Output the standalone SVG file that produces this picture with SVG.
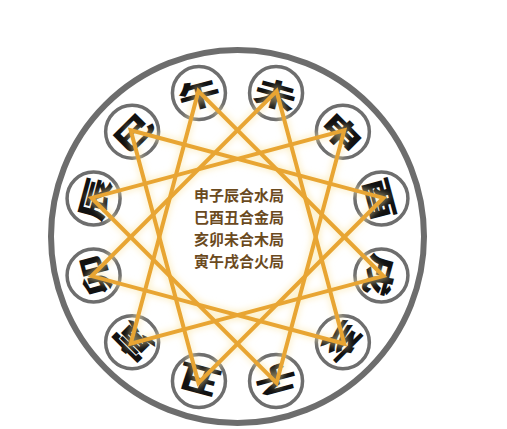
<svg xmlns="http://www.w3.org/2000/svg" width="507" height="429" viewBox="0 0 507 429">
<defs>
<style>
.node circle{fill:#ffffff;stroke:#6e6e6e;stroke-width:3.5}
.node text{font-family:"Noto Sans CJK SC","Noto Sans CJK TC",sans-serif;font-weight:900;font-size:34px;fill:#111111;text-anchor:middle;dominant-baseline:central}
.tri{fill:none;stroke:#E8A533;stroke-width:4;stroke-linejoin:miter}
.glow{fill:none;stroke:#FBE7A8;stroke-width:8;opacity:0.5}
.legend{font-family:"Noto Sans CJK SC",sans-serif;font-weight:700;font-size:15px;fill:#6b4a1e;text-anchor:middle}
</style>
<filter id="blur" x="-20%" y="-20%" width="140%" height="140%"><feGaussianBlur stdDeviation="3"/></filter>
</defs>
<rect width="507" height="429" fill="#ffffff"/>
<circle id="outer" cx="237.5" cy="236.5" r="186.5" fill="none" stroke="#6d6d6d" stroke-width="6"/>
<g id="node-wu" class="node"><circle cx="198.94" cy="93.08" r="26.5"/><g transform="translate(198.94,93.08) rotate(-15) scale(1.25,0.9)"><text x="0" y="0">午</text></g></g>
<g id="node-wei" class="node"><circle cx="276.06" cy="93.08" r="26.5"/><g transform="translate(276.06,93.08) rotate(15) scale(1.25,0.9)"><text x="0" y="0">未</text></g></g>
<g id="node-shen" class="node"><circle cx="342.86" cy="131.64" r="26.5"/><g transform="translate(342.86,131.64) rotate(45) scale(1.25,0.9)"><text x="0" y="0">申</text></g></g>
<g id="node-you" class="node"><circle cx="381.42" cy="198.44" r="26.5"/><g transform="translate(381.42,198.44) rotate(75) scale(1.25,0.9)"><text x="0" y="0">酉</text></g></g>
<g id="node-xu" class="node"><circle cx="381.42" cy="275.56" r="26.5"/><g transform="translate(381.42,275.56) rotate(105) scale(1.25,0.9)"><text x="0" y="0">戌</text></g></g>
<g id="node-hai" class="node"><circle cx="342.86" cy="342.36" r="26.5"/><g transform="translate(342.86,342.36) rotate(135) scale(1.25,0.9)"><text x="0" y="0">亥</text></g></g>
<g id="node-zi" class="node"><circle cx="276.06" cy="380.92" r="26.5"/><g transform="translate(276.06,380.92) rotate(165) scale(1.25,0.9)"><text x="0" y="0">子</text></g></g>
<g id="node-chou" class="node"><circle cx="198.94" cy="380.92" r="26.5"/><g transform="translate(198.94,380.92) rotate(195) scale(1.25,0.9)"><text x="0" y="0">丑</text></g></g>
<g id="node-yin" class="node"><circle cx="132.14" cy="342.36" r="26.5"/><g transform="translate(132.14,342.36) rotate(225) scale(1.25,0.9)"><text x="0" y="0">寅</text></g></g>
<g id="node-mao" class="node"><circle cx="93.58" cy="275.56" r="26.5"/><g transform="translate(93.58,275.56) rotate(255) scale(1.25,0.9)"><text x="0" y="0">卯</text></g></g>
<g id="node-chen" class="node"><circle cx="93.58" cy="198.44" r="26.5"/><g transform="translate(93.58,198.44) rotate(285) scale(1.25,0.9)"><text x="0" y="0">辰</text></g></g>
<g id="node-si" class="node"><circle cx="132.14" cy="131.64" r="26.5"/><g transform="translate(132.14,131.64) rotate(315) scale(1.25,0.9)"><text x="0" y="0">巳</text></g></g>
<g id="connectors">
<g filter="url(#blur)">
<polygon class="glow" points="344.27,130.23 276.58,382.85 91.65,197.92"/>
<polygon class="glow" points="130.73,130.23 383.35,197.92 198.42,382.85"/>
<polygon class="glow" points="344.27,343.77 91.65,276.08 276.58,91.15"/>
<polygon class="glow" points="130.73,343.77 198.42,91.15 383.35,276.08"/>
</g>
<polygon id="water" class="tri" points="344.27,130.23 276.58,382.85 91.65,197.92"/>
<polygon id="metal" class="tri" points="130.73,130.23 383.35,197.92 198.42,382.85"/>
<polygon id="wood" class="tri" points="344.27,343.77 91.65,276.08 276.58,91.15"/>
<polygon id="fire" class="tri" points="130.73,343.77 198.42,91.15 383.35,276.08"/>
</g>
<g id="legend">
<text class="legend" x="239" y="201">申子辰合水局</text>
<text class="legend" x="239" y="223">巳酉丑合金局</text>
<text class="legend" x="239" y="245">亥卯未合木局</text>
<text class="legend" x="239" y="267">寅午戌合火局</text>
</g>
</svg>
